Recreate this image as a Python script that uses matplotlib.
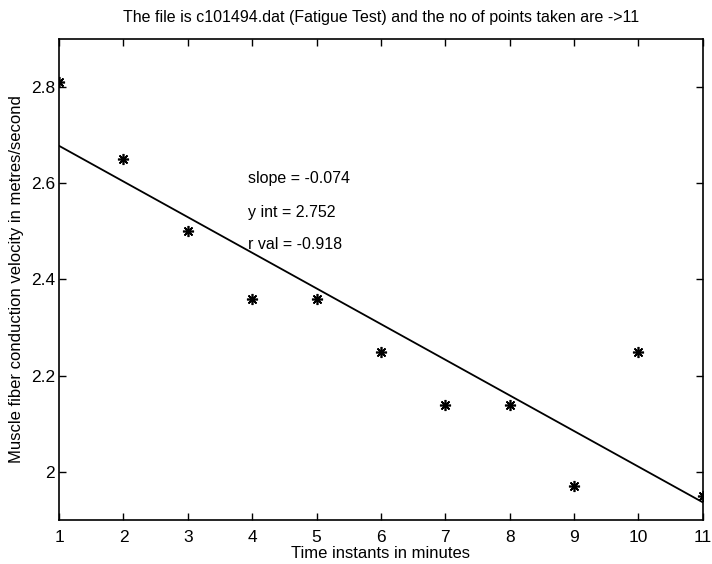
import numpy as np
import matplotlib

matplotlib.use("Agg")
import matplotlib.pyplot as plt

# data (velocity at each minute)
minutes = [1, 2, 3, 4, 5, 6, 7, 8, 9, 10, 11]
velocity = [2.81, 2.65, 2.50, 2.36, 2.36, 2.25, 2.14, 2.14, 1.97, 2.25, 1.95]
x_ticks = [1, 2, 3, 4, 5, 6, 7, 8, 9, 10, 11]
y_ticks = [2.0, 2.2, 2.4, 2.6, 2.8]
y_tick_labels = ["2", "2.2", "2.4", "2.6", "2.8"]

plt.rcParams["font.family"] = ["Liberation Sans", "DejaVu Sans"]

x = np.array(minutes, dtype=float)
y = np.array(velocity, dtype=float)
slope, intercept = np.polyfit(x, y, 1)
r_val = np.corrcoef(x, y)[0, 1]

fig = plt.figure(figsize=(7.12, 5.64), dpi=100)
ax = fig.add_axes([0.083, 0.078, 0.904, 0.853])

ax.plot(x, y, linestyle="none", marker=(8, 2, 0), markersize=8,
        markeredgewidth=1.2, color="black")
ax.plot(x, slope * x + intercept, color="black", linewidth=1.3)

ax.text(3.93, 2.61, f"slope = {slope:.3f}", fontsize=11.5, va="center")
ax.text(3.93, 2.54, f"y int = {intercept:.3f}", fontsize=11.5, va="center")
ax.text(3.93, 2.473, f"r val = {r_val:.3f}", fontsize=11.5, va="center")

ax.set_xlim(1, 11)
ax.set_ylim(1.9, 2.9)
ax.set_xticks(x_ticks)
ax.set_yticks(y_ticks)
ax.set_yticklabels(y_tick_labels)
ax.tick_params(direction="in", top=True, right=True, length=5, width=1,
               labelsize=12.5)
ax.tick_params(axis="x", pad=7)
ax.tick_params(axis="y", pad=3)
for spine in ax.spines.values():
    spine.set_linewidth(1.2)

ax.set_xlabel("Time instants in minutes", fontsize=12, labelpad=1)
ax.set_ylabel("Muscle fiber conduction velocity in metres/second", fontsize=12,
              labelpad=5)
ax.set_title("The file is c101494.dat (Fatigue Test) and the no of points taken are ->11",
             fontsize=11.5, pad=12)

fig.savefig("out.png", dpi=100)
